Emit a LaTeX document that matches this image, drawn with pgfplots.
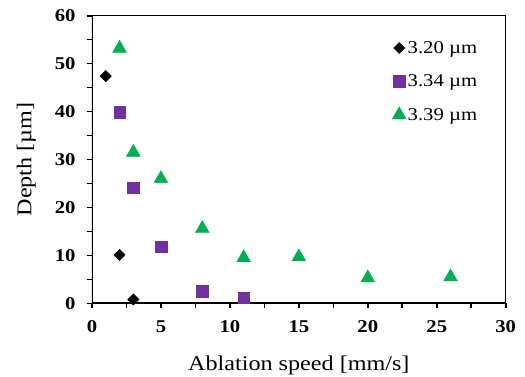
\documentclass[border=0pt]{standalone}
\usepackage{fontspec}
\setmainfont{Liberation Serif}[FakeStretch=1.15]
\usepackage{pgfplots}
\pgfplotsset{compat=1.18}
\definecolor{mypurple}{HTML}{7030A0}
\definecolor{mygreen}{HTML}{00B050}
\begin{document}
\begin{tikzpicture}[x=1pt,y=1pt]
\path[use as bounding box] (0,0) rectangle (525,376);
\begin{axis}[
  at={(92pt,72.7pt)}, anchor=south west,
  scale only axis,
  width=413.7pt, height=287.6pt,
  xmin=0, xmax=30, ymin=0, ymax=60,
  xtick={0,5,...,30}, ytick={0,10,...,60},
  xticklabels={\textbf{0},\textbf{5},\textbf{10},\textbf{15},\textbf{20},\textbf{25},\textbf{30}},
  yticklabels={\textbf{0},\textbf{10},\textbf{20},\textbf{30},\textbf{40},\textbf{50},\textbf{60}},
  minor x tick num=1, minor y tick num=1,
  tick align=outside,
  xtick pos=bottom, ytick pos=left,
  major tick length=5pt, minor tick length=5pt,
  every tick/.style={black, line width=1.6pt},
  axis line style={black, line width=0.8pt},
  tick label style={font=\fontsize{18}{18}\selectfont},
  xticklabel style={yshift=-9pt},
  yticklabel style={xshift=-8pt},
  xlabel={Ablation speed [mm/s]},
  ylabel={Depth [\textmu m]},
  label style={font=\fontsize{21}{21}\selectfont},
  xlabel style={yshift=-16pt},
  ylabel style={yshift=12pt},
  legend style={at={(0.935,0.917)}, anchor=north east, draw=none, fill=none,
    font=\fontsize{18}{18}\selectfont, row sep=17pt, inner sep=0pt,
    nodes={inner sep=1.5pt}},
  legend cell align=left,
  legend image code/.code={\draw[#1] plot coordinates {(0pt,0pt)};},
]
\addplot[only marks, mark=square*, mark size=4pt, mark options={rotate=45, fill=black, draw=black}] coordinates {
(1,47.4) (2,10.1) (3,0.8)
};
\addlegendentry{3.20 \textmu m}
\addplot[only marks, mark=square*, mark size=5.8pt, mark options={fill=mypurple, draw=mypurple}] coordinates {
(2,39.9) (3,24.1) (5,11.8) (8,2.5) (11,1.2)
};
\addlegendentry{3.34 \textmu m}
\addplot[only marks, mark=triangle*, mark size=8pt, mark options={fill=mygreen, draw=mygreen}] coordinates {
(2,53.2) (3,31.5) (5,26.0) (8,15.6) (11,9.5) (15,9.7) (20,5.3) (26,5.5)
};
\addlegendentry{3.39 \textmu m}
\draw[black, line width=2.3pt] (rel axis cs:0,1) -- (rel axis cs:0,0) -- (rel axis cs:1,0);
\end{axis}
\end{tikzpicture}
\end{document}
